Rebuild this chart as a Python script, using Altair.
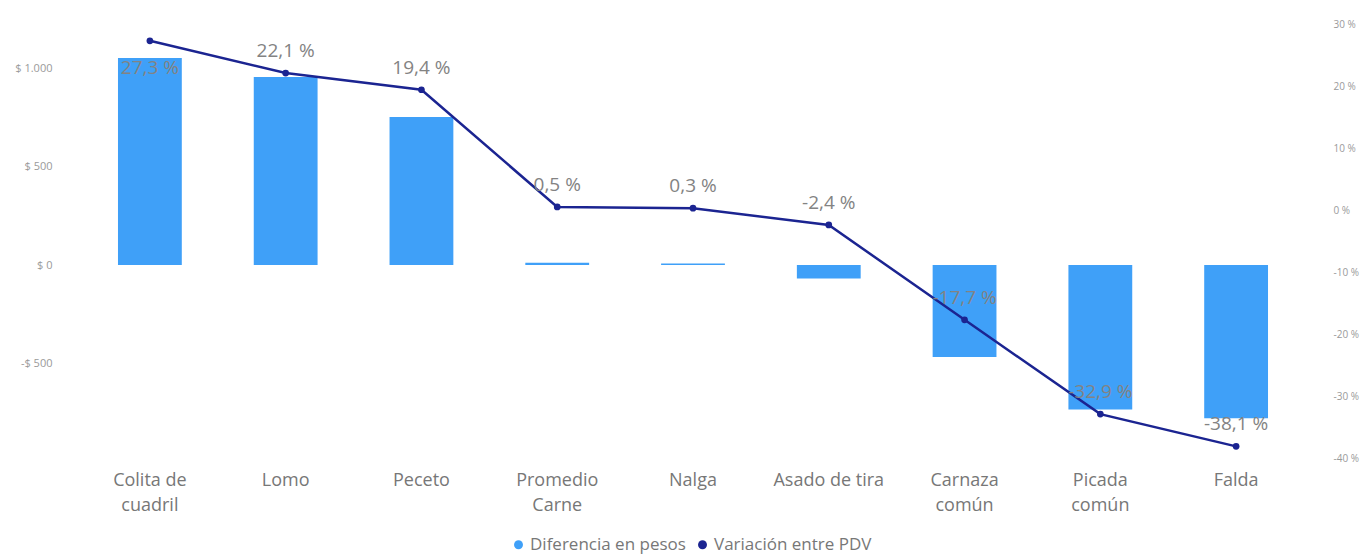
import altair as alt
import pandas as pd

categories = ["Colita de\ncuadril", "Lomo", "Peceto", "Promedio\nCarne", "Nalga",
              "Asado de tira", "Carnaza\ncomún", "Picada\ncomún", "Falda"]
diferencia_pesos = [1051, 954, 751, 12, 8, -68, -467, -733, -778]
variacion_pdv = [27.3, 22.1, 19.4, 0.5, 0.3, -2.4, -17.7, -32.9, -38.1]
left_ticks = [-500, 0, 500, 1000]
right_ticks = [-40, -30, -20, -10, 0, 10, 20, 30]
series_names = ["Diferencia en pesos", "Variación entre PDV"]

BAR = "#3FA0F8"
NAVY = "#1B2491"
GRAY = "#777777"
FONT = "Open Sans"

df = pd.DataFrame({"cat": categories, "diff": diferencia_pesos, "var": variacion_pdv})

x_enc = alt.X(
    "cat:N", sort=categories, title=None,
    scale=alt.Scale(paddingInner=0.53, paddingOuter=0.265),
    axis=alt.Axis(labelExpr="split(datum.label, '\\n')", labelAngle=0, labelFontSize=18,
                  labelColor=GRAY, labelFont=FONT, labelPadding=11, labelLineHeight=25,
                  ticks=False, domain=False, grid=False),
)

color_scale = alt.Scale(domain=series_names, range=[BAR, NAVY])
legend = alt.Legend(title=None, orient="none", direction="horizontal", legendX=428, legendY=516,
                    symbolType="circle", symbolSize=80, labelFontSize=17, labelColor=GRAY,
                    labelFont=FONT, labelOffset=3, columnPadding=8, symbolStrokeWidth=0)

bars = alt.Chart(df).transform_calculate(series='"Diferencia en pesos"').mark_bar().encode(
    x=x_enc,
    y=alt.Y("diff:Q", title=None,
            scale=alt.Scale(domain=[-990, 1244], nice=False, zero=False),
            axis=alt.Axis(values=left_ticks, grid=False, ticks=False, domain=False,
                          labelFontSize=11, labelColor="#9a9a9a", labelFont=FONT, labelPadding=30,
                          labelExpr="(datum.value < 0 ? '-$ ' : '$ ') + replace(format(abs(datum.value), ',d'), ',', '.')")),
    color=alt.Color("series:N", scale=color_scale, legend=legend),
)

right_axis = alt.Axis(orient="right", values=right_ticks, grid=False, ticks=False, domain=False,
                      labelFontSize=10, labelColor="#9a9a9a", labelFont=FONT, labelPadding=29,
                      labelExpr="(datum.value < 0 ? '-' : '') + abs(datum.value) + ' %'")
y_right = alt.Y("var:Q", title=None,
                scale=alt.Scale(domain=[-40.3, 30.65], nice=False, zero=False),
                axis=right_axis)

base = alt.Chart(df).transform_calculate(
    series='"Variación entre PDV"',
    lab="(datum['var'] < 0 ? '-' : '') + replace(format(abs(datum['var']), '.1f'), '.', ',') + ' %'",
)

line = base.mark_line(color=NAVY, strokeWidth=2.5).encode(x=x_enc, y=y_right)
points = base.mark_circle(size=45, opacity=1).encode(
    x=x_enc, y=y_right, color=alt.Color("series:N", scale=color_scale, legend=legend))
text_above = base.transform_filter("datum['var'] < 25").mark_text(
    dy=-22, fontSize=19, font=FONT, color="#838383").encode(x=x_enc, y=y_right, text="lab:N")
text_below = base.transform_filter("datum['var'] >= 25").mark_text(
    dy=27, fontSize=19, font=FONT, color="#838383").encode(x=x_enc, y=y_right, text="lab:N")

right_layer = alt.layer(line, points, text_above, text_below)

chart = alt.layer(bars, right_layer).resolve_scale(y="independent").properties(
    width=1222, height=440,
    autosize=alt.AutoSizeParams(type="none"),
    padding={"left": 74, "top": 12, "right": 58, "bottom": 96},
).configure_view(stroke=None)

chart.save("out.html", embed_options={"renderer": "svg", "actions": False})
